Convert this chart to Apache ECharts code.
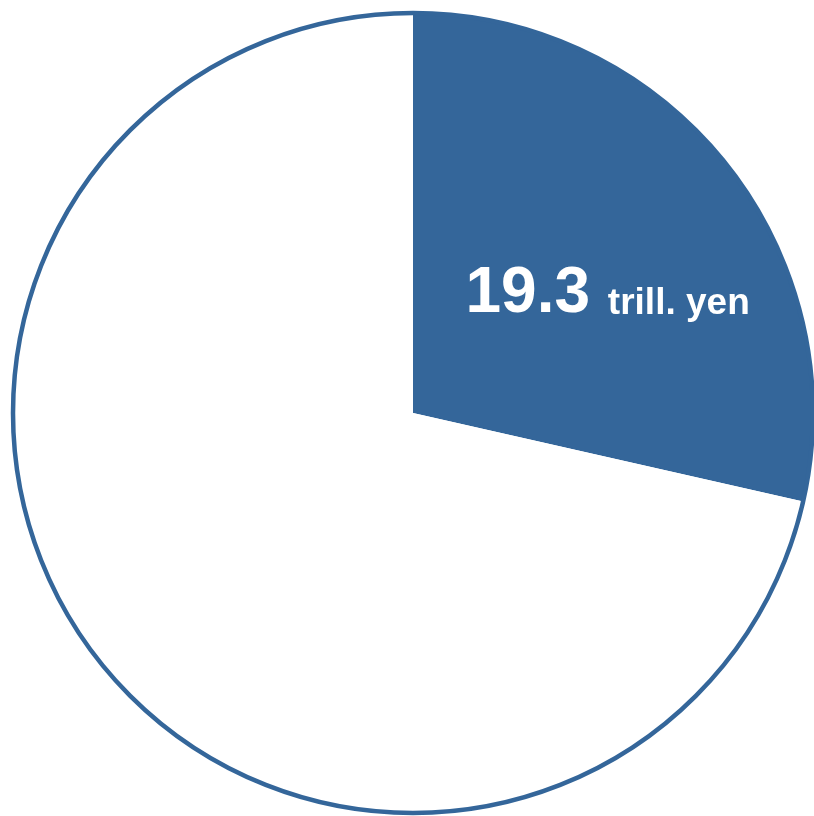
<!DOCTYPE html>
<html>
<head>
<meta charset="utf-8">
<script src="https://cdn.jsdelivr.net/npm/echarts@6/dist/echarts.min.js"></script>
<style>html,body{margin:0;padding:0;background:#fff}#c{width:814px;height:816px}</style>
</head>
<body>
<div id="c"></div>
<script>
const categories = ['Share', 'Rest'];
const values = [19.3, 48.3];
const labelUnit = 'trill. yen';

const blue = '#34669a';
const chart = echarts.init(document.getElementById('c'), null, {renderer: 'canvas'});
chart.setOption({
  animation: false,
  series: [
    {
      type: 'pie',
      center: [413, 413],
      radius: [0, 400],
      startAngle: 90,
      clockwise: true,
      silent: true,
      data: categories.map((c, i) => ({
        name: c,
        value: values[i],
        itemStyle: {color: i === 0 ? blue : '#ffffff'},
        label: {show: i === 0}
      })),
      label: {
        position: 'inside',
        formatter: p => '{a|' + p.value + ' }{b|' + labelUnit + '}',
        rich: {
          a: {fontFamily: 'Liberation Sans', fontWeight: 'bold', fontSize: 64, lineHeight: 64, color: '#fff', verticalAlign: 'bottom'},
          b: {fontFamily: 'Liberation Sans', fontWeight: 'bold', fontSize: 37, lineHeight: 37, color: '#fff', verticalAlign: 'bottom', padding: [0, 0, 4, 0]}
        }
      },
      labelLayout: {dx: 36, dy: 8},
      labelLine: {show: false}
    },
    {
      type: 'pie',
      center: [413, 413],
      radius: [0, 400],
      silent: true,
      label: {show: false},
      labelLine: {show: false},
      data: [{value: 1, itemStyle: {color: 'rgba(0,0,0,0)', borderColor: blue, borderWidth: 4.5}}]
    }
  ]
});
</script>
</body>
</html>
